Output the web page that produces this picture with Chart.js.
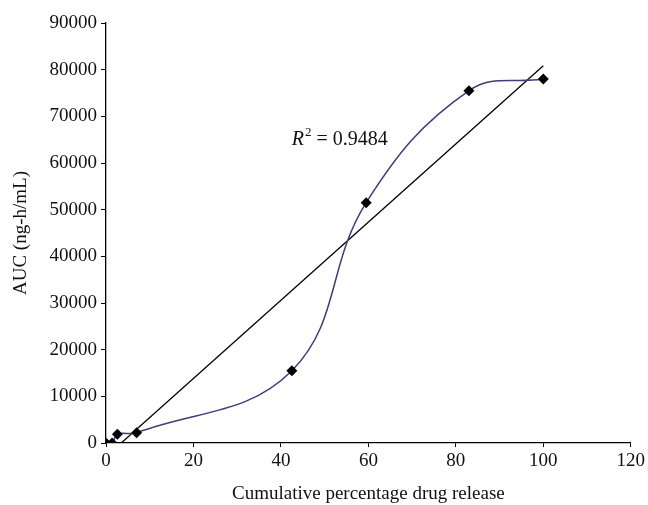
<!DOCTYPE html>
<html>
<head>
<meta charset="utf-8">
<title>AUC vs cumulative drug release</title>
<script src="https://cdn.jsdelivr.net/npm/chart.js@4"></script>
<style>
  html, body { margin: 0; padding: 0; background: #fff; }
  #wrap { width: 648px; height: 505px; position: relative; }
</style>
</head>
<body>
<div id="wrap"><canvas id="aucChart" width="648" height="505"></canvas></div>
<script>
/* ======================================================================
DATA
====================================================================== */
const releasePct = [0, 1.4, 2.6, 7, 42.5, 59.5, 83, 100];
const aucValues = [0, 0, 1900, 2200, 15500, 51500, 75500, 78000];
const xTicks = [0, 20, 40, 60, 80, 100, 120];
const yTicks = [0, 10000, 20000, 30000, 40000, 50000, 60000, 70000, 80000, 90000];
const rSquaredText = '0.9484';

/* ======================================================================
Linear trendline (least squares over the same points)
====================================================================== */
function linearFit(xs, ys) {
  const n = xs.length;
  const mx = xs.reduce((a, b) => a + b, 0) / n;
  const my = ys.reduce((a, b) => a + b, 0) / n;
  let sxx = 0, sxy = 0;
  for (let i = 0; i < n; i++) {
    sxx += (xs[i] - mx) * (xs[i] - mx);
    sxy += (xs[i] - mx) * (ys[i] - my);
  }
  const slope = sxy / sxx;
  return { slope: slope, intercept: my - slope * mx };
}

const fit = linearFit(releasePct, aucValues);
const xMin = Math.min(...releasePct);
const xMax = Math.max(...releasePct);
const trendPoints = [xMin, xMax].map(x => ({ x: x, y: fit.slope * x + fit.intercept }));
const curvePoints = releasePct.map((x, i) => ({ x: x, y: aucValues[i] }));

/* ======================================================================
R squared label
====================================================================== */
const rSquaredLabel = {
  id: 'rSquaredLabel',
  afterDatasetsDraw(chart) {
    const ctx = chart.ctx;
    const xs = chart.scales.x;
    const ys = chart.scales.y;
    const left = xs.getPixelForValue(42.5);
    const base = ys.getPixelForValue(63800);
    ctx.save();
    ctx.fillStyle = '#111';
    ctx.textBaseline = 'alphabetic';
    ctx.textAlign = 'left';
    ctx.font = 'italic 20px "Liberation Serif"';
    ctx.fillText('R', left, base);
    let w = ctx.measureText('R').width;
    ctx.font = '13px "Liberation Serif"';
    ctx.fillText('2', left + w + 1, base - 9);
    w += ctx.measureText('2').width + 1;
    ctx.font = '20px "Liberation Serif"';
    ctx.fillText(' = ' + rSquaredText, left + w, base);
    ctx.restore();
  }
};

/* ======================================================================
Chart
====================================================================== */
const canvas = document.getElementById('aucChart');
const serif = '"Liberation Serif", "DejaVu Serif", serif';

new Chart(canvas, {
  type: 'scatter',
  data: {
    datasets: [{
      data: curvePoints,
      showLine: true,
      borderColor: '#403c78',
      borderWidth: 1.5,
      tension: 0.4,
      pointStyle: 'rectRot',
      pointRadius: 5.5,
      pointBackgroundColor: '#000',
      pointBorderColor: '#000',
      pointBorderWidth: 0,
      order: 1
    }, {
      data: trendPoints,
      showLine: true,
      borderColor: '#000',
      borderWidth: 1.3,
      pointRadius: 0,
      tension: 0,
      clip: 0,
      order: 2
    }]
  },
  options: {
    responsive: false,
    animation: false,
    layout: { padding: { top: 23, right: 17, left: 0, bottom: 0 } },
    plugins: {
      legend: { display: false },
      tooltip: { enabled: false }
    },
    scales: {
      x: {
        type: 'linear',
        min: 0,
        max: 120,
        afterBuildTicks(scale) { scale.ticks = xTicks.map(v => ({ value: v })); },
        afterFit(scale) { scale.height = 62; },
        border: { color: '#000', width: 1.3 },
        grid: { drawOnChartArea: false, tickLength: 4, color: '#000' },
        ticks: {
          color: '#111', padding: 3, font: { family: serif, size: 19 },
          callback: v => String(v)
        },
        title: {
          display: true,
          text: 'Cumulative percentage drug release',
          color: '#111',
          padding: { top: 0, bottom: 0 },
          font: { family: serif, size: 19 }
        }
      },
      y: {
        type: 'linear',
        min: 0,
        max: 90000,
        afterBuildTicks(scale) { scale.ticks = yTicks.map(v => ({ value: v })); },
        afterFit(scale) { scale.width = 106; },
        border: { color: '#000', width: 1.3 },
        grid: { drawOnChartArea: false, tickLength: 5, color: '#000' },
        ticks: {
          color: '#111', padding: 4, font: { family: serif, size: 19 },
          callback: v => String(v)
        },
        title: {
          display: true,
          text: 'AUC (ng-h/mL)',
          color: '#111',
          padding: { top: 10, bottom: 0 },
          font: { family: serif, size: 19 }
        }
      }
    }
  },
  plugins: [rSquaredLabel]
});
</script>
</body>
</html>
